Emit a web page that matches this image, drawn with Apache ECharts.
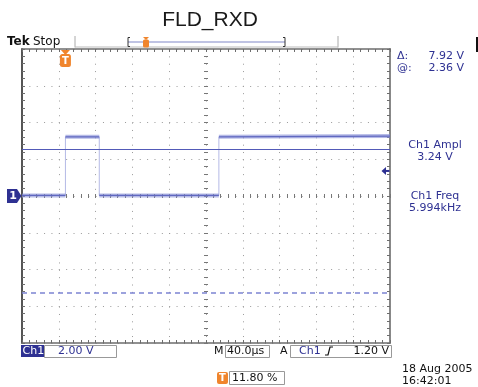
<!DOCTYPE html>
<html><head><meta charset="utf-8">
<script src="https://cdn.jsdelivr.net/npm/echarts@6/dist/echarts.min.js"></script>
<style>html,body{margin:0;padding:0;background:#fff;}#c{width:478px;height:387px;}</style>
</head><body><div id="c"></div>
<script>
// ---- data ----
const chartTitle = 'FLD_RXD';
const voltsPerDiv = 2.00;          // Ch1 2.00 V / div
const timePerDiv_us = 40.0;        // M 40.0 µs / div
const triggerPosPct = 11.80;       // trigger position in record (%)
const triggerLevel_V = 1.20;       // A Ch1 rising 1.20 V
// trace vertices, time relative to trigger (µs) and voltage (V)
const traceTimes_us = [-47.2, 0, 0, 36.8, 36.8, 166.8, 166.8, 352.8];
const traceVolts    = [0.03, 0.03, 3.22, 3.22, 0.03, 0.03, 3.22, 3.26];
// horizontal cursors (V)
const cursorVolts = [2.53, -5.28];
const cursorReadouts = ['7.92 V', '2.36 V'];
const measLabels = ['Ch1 Ampl', '3.24 V', 'Ch1 Freq', '5.994kHz'];
const dateText = '18 Aug 2005';
const timeText = '16:42:01';

// ---- derived ----
const divsX = 10, divsY = 8;
const xHalf = timePerDiv_us * divsX / 2;
const yHalf = voltsPerDiv * divsY / 2;
const shift = (50 - triggerPosPct) / 100 * timePerDiv_us * divsX; // trigger -> screen centre
const pts = traceTimes_us.map((t, i) => [t - shift, traceVolts[i]]);
const plateau = [];
for (let i = 0; i < pts.length; i += 2) { plateau.push(pts[i], pts[i + 1]); if (i + 2 < pts.length) plateau.push(null); }
const edges = [];
for (let i = 1; i + 1 < pts.length; i += 2) { edges.push(pts[i], pts[i + 1]); if (i + 3 < pts.length) edges.push(null); }

const NAVY = '#2e3192', ORANGE = '#f0852d', GRID = '#9a9a9a', BORDER = '#6d6d6d';
const UI = 'DejaVu Sans';

function vAxis(pos, extra) {
  return Object.assign({
    type: 'value', min: -yHalf, max: yHalf, interval: voltsPerDiv, position: pos,
    axisLabel: { show: false },
    axisLine: { show: true, onZero: false, lineStyle: { color: BORDER, width: 1.5 } },
    axisTick: { show: true, inside: true, length: 3, lineStyle: { color: BORDER } },
    minorTick: { show: true, splitNumber: 5, length: 3, lineStyle: { color: BORDER } },
    splitLine: { show: false }
  }, extra || {});
}
function hAxis(pos, extra) {
  return Object.assign({
    type: 'value', min: -xHalf, max: xHalf, interval: timePerDiv_us, position: pos,
    axisLabel: { show: false },
    axisLine: { show: true, onZero: false, lineStyle: { color: BORDER, width: 1.5 } },
    axisTick: { show: true, inside: true, length: 3, lineStyle: { color: BORDER } },
    minorTick: { show: true, splitNumber: 5, length: 3, lineStyle: { color: BORDER } },
    splitLine: { show: false }
  }, extra || {});
}
const dotted = { show: true, lineStyle: { color: GRID, width: 1, type: [1, 6.36] } };
const centreTick = (inside) => ({
  axisLine: { show: false, onZero: true, onZeroAxisIndex: 0 },
  axisTick: { show: true, inside: inside, length: 2, lineStyle: { color: '#777' } },
  minorTick: { show: true, splitNumber: 5, length: 2, lineStyle: { color: '#777' } }
});

const chart = echarts.init(document.getElementById('c'), null, { renderer: 'canvas' });
const option = {
  animation: false,
  backgroundColor: '#fff',
  grid: { left: 22, top: 49, width: 368, height: 294, containLabel: false },
  xAxis: [
    hAxis('bottom', { splitLine: dotted }),
    hAxis('top'),
    hAxis('bottom', centreTick(true)),
    hAxis('bottom', centreTick(false))
  ],
  yAxis: [
    vAxis('left', { splitLine: dotted, axisLine: { show: true, onZero: false, lineStyle: { color: '#555', width: 2 } } }),
    vAxis('right', { axisLine: { show: true, onZero: false, lineStyle: { color: '#888', width: 2 } } }),
    vAxis('left', centreTick(true)),
    vAxis('left', centreTick(false))
  ],
  series: [
    { type: 'line', data: edges, symbol: 'none', connectNulls: false, color: '#b4b9e6', lineStyle: { color: '#b4b9e6', width: 1 }, z: 3 },
    { type: 'line', data: plateau, symbol: 'none', connectNulls: false, color: '#8c94d8', lineStyle: { color: 'rgba(132,140,214,0.6)', width: 4 }, z: 4 },
    { type: 'line', data: plateau, symbol: 'none', connectNulls: false, color: '#6068c0', lineStyle: { color: '#6068c0', width: 1.3 }, z: 5 },
    { type: 'line', data: [[-xHalf, cursorVolts[0]], [xHalf, cursorVolts[0]]], symbol: 'none', color: '#525ab8', lineStyle: { color: '#525ab8', width: 1, opacity: 1 }, z: 6 },
    { type: 'line', data: [[-xHalf, cursorVolts[1]], [xHalf, cursorVolts[1]]], symbol: 'none', color: '#7c84d2', lineStyle: { color: '#7c84d2', width: 1.6, type: [5, 4], opacity: 1 }, z: 6 }
  ]
};
chart.setOption(option);

const trigX = chart.convertToPixel({ xAxisIndex: 0 }, 0 - shift);
const gndY = chart.convertToPixel({ yAxisIndex: 0 }, 0);
const trigY = chart.convertToPixel({ yAxisIndex: 0 }, triggerLevel_V) - 3;

function txt(x, y, s, o) {
  return { type: 'text', x: x, y: y, z: 50, style: Object.assign({ text: s, fontFamily: UI, fontSize: 11, fill: '#111', verticalAlign: 'middle', align: 'left' }, o || {}) };
}
const g = [
  // title
  { type: 'text', x: 210, y: 20, z: 50, style: { text: chartTitle, fontFamily: 'Liberation Sans', fontSize: 21, fill: '#1a1a1a', align: 'center', verticalAlign: 'middle' } },
  // Tek Stop
  txt(7, 42, 'Tek', { fontWeight: 'bold', fontSize: 12, fill: '#111' }),
  txt(33, 42, 'Stop', { fontSize: 12 }),
  // record bar
  { type: 'line', z: 40, shape: { x1: 75, y1: 36, x2: 75, y2: 47.5 }, style: { stroke: '#aaa', lineWidth: 1 } },
  { type: 'line', z: 40, shape: { x1: 338, y1: 36, x2: 338, y2: 47.5 }, style: { stroke: '#aaa', lineWidth: 1 } },
  { type: 'line', z: 40, shape: { x1: 75, y1: 47, x2: 338, y2: 47 }, style: { stroke: '#bbb', lineWidth: 1 } },
  { type: 'line', z: 40, shape: { x1: 128, y1: 42, x2: 285, y2: 42 }, style: { stroke: '#8088c8', lineWidth: 1.2 } },
  { type: 'polyline', z: 40, shape: { points: [[130, 37.5], [128, 37.5], [128, 46.5], [130, 46.5]] }, style: { stroke: '#333', lineWidth: 1, fill: null } },
  { type: 'polyline', z: 40, shape: { points: [[283, 37.5], [285, 37.5], [285, 46.5], [283, 46.5]] }, style: { stroke: '#333', lineWidth: 1, fill: null } },
  { type: 'polygon', z: 41, shape: { points: [[143, 37], [149, 37], [146, 40]] }, style: { fill: ORANGE } },
  { type: 'rect', z: 41, shape: { x: 143, y: 39.5, width: 6, height: 8, r: 1.5 }, style: { fill: ORANGE } },
  // trigger position marker
  { type: 'polygon', z: 41, shape: { points: [[trigX - 4.5, 50], [trigX + 4.5, 50], [trigX, 55]] }, style: { fill: ORANGE } },
  { type: 'rect', z: 41, shape: { x: trigX - 5.5, y: 54, width: 11, height: 13, r: 2.5 }, style: { fill: ORANGE } },
  { type: 'text', z: 42, x: trigX, y: 61, style: { text: 'T', fontFamily: UI, fontWeight: 'bold', fontSize: 10, fill: '#fff', align: 'center', verticalAlign: 'middle' } },
  // ground marker
  { type: 'polygon', z: 41, shape: { points: [[7, gndY - 7], [17, gndY - 7], [21.5, gndY], [17, gndY + 7], [7, gndY + 7]] }, style: { fill: NAVY } },
  { type: 'text', z: 42, x: 13, y: gndY + 0.5, style: { text: '1', fontFamily: UI, fontWeight: 'bold', fontSize: 11, fill: '#fff', align: 'center', verticalAlign: 'middle' } },
  // trigger level arrow
  { type: 'polygon', z: 41, shape: { points: [[381.5, trigY], [386, trigY - 4], [386, trigY + 4]] }, style: { fill: NAVY } },
  { type: 'rect', z: 41, shape: { x: 385.5, y: trigY - 1, width: 4, height: 2 }, style: { fill: NAVY } },
  // right readouts
  txt(397, 56, '\u0394:', { fill: NAVY }),
  txt(464, 56, cursorReadouts[0], { fill: NAVY, align: 'right' }),
  txt(397, 68, '@:', { fill: NAVY }),
  txt(464, 68, cursorReadouts[1], { fill: NAVY, align: 'right' }),
  txt(435, 145, measLabels[0], { fill: NAVY, align: 'center' }),
  txt(435, 157, measLabels[1], { fill: NAVY, align: 'center' }),
  txt(435, 196, measLabels[2], { fill: NAVY, align: 'center' }),
  txt(435, 208, measLabels[3], { fill: NAVY, align: 'center' }),
  { type: 'rect', z: 41, shape: { x: 476, y: 37, width: 2, height: 15 }, style: { fill: '#111' } },
  // bottom status line
  { type: 'rect', z: 40, shape: { x: 21, y: 345, width: 23, height: 12 }, style: { fill: NAVY } },
  txt(22.5, 351, 'Ch1', { fill: '#fff' }),
  { type: 'rect', z: 40, shape: { x: 44.5, y: 345.5, width: 72, height: 12 }, style: { fill: null, stroke: '#999', lineWidth: 1 } },
  txt(58, 351, voltsPerDiv.toFixed(2) + ' V', { fill: NAVY }),
  txt(214, 351, 'M'),
  { type: 'rect', z: 40, shape: { x: 225.5, y: 345.5, width: 44, height: 12 }, style: { fill: null, stroke: '#999', lineWidth: 1 } },
  txt(227, 351, timePerDiv_us.toFixed(1) + '\u00b5s'),
  txt(280, 351, 'A'),
  { type: 'rect', z: 40, shape: { x: 290.5, y: 345.5, width: 101, height: 12 }, style: { fill: null, stroke: '#999', lineWidth: 1 } },
  txt(299, 351, 'Ch1', { fill: NAVY }),
  { type: 'polyline', z: 41, shape: { points: [[325, 355], [328, 355], [330, 347], [333, 347]] }, style: { stroke: '#111', lineWidth: 1.2, fill: null } },
  txt(389, 351, triggerLevel_V.toFixed(2) + ' V', { align: 'right' }),
  { type: 'rect', z: 40, shape: { x: 217, y: 372, width: 11, height: 12, r: 2 }, style: { fill: ORANGE } },
  { type: 'text', z: 42, x: 222.5, y: 378, style: { text: 'T', fontFamily: UI, fontWeight: 'bold', fontSize: 10, fill: '#fff', align: 'center', verticalAlign: 'middle' } },
  { type: 'rect', z: 40, shape: { x: 229.5, y: 371.5, width: 55, height: 13 }, style: { fill: null, stroke: '#999', lineWidth: 1 } },
  txt(232, 378, triggerPosPct.toFixed(2) + ' %'),
  txt(402, 369, dateText),
  txt(402, 381, timeText)
];
chart.setOption({ graphic: g });
</script></body></html>
